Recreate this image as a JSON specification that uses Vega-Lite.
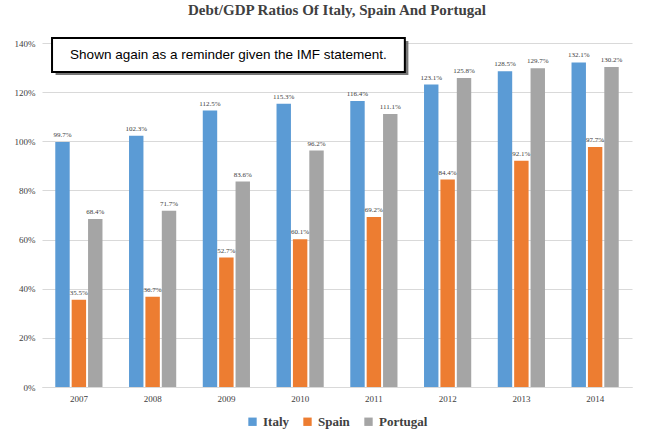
{
  "$schema": "https://vega.github.io/schema/vega-lite/v6.json",
  "width": 590,
  "height": 344,
  "autosize": {"type": "none"},
  "padding": {"left": 42, "top": 43, "right": 30, "bottom": 56},
  "background": "white",
  "title": {
    "text": "Debt/GDP Ratios Of  Italy, Spain And Portugal",
    "font": "Liberation Serif",
    "fontSize": 15,
    "fontWeight": "bold",
    "color": "#404040",
    "anchor": "middle",
    "offset": 19
  },
  "datasets": {
    "ratios": [
      {"year": "2007", "country": "Italy", "ratio": 99.7},
      {"year": "2007", "country": "Spain", "ratio": 35.5},
      {"year": "2007", "country": "Portugal", "ratio": 68.4},
      {"year": "2008", "country": "Italy", "ratio": 102.3},
      {"year": "2008", "country": "Spain", "ratio": 36.7},
      {"year": "2008", "country": "Portugal", "ratio": 71.7},
      {"year": "2009", "country": "Italy", "ratio": 112.5},
      {"year": "2009", "country": "Spain", "ratio": 52.7},
      {"year": "2009", "country": "Portugal", "ratio": 83.6},
      {"year": "2010", "country": "Italy", "ratio": 115.3},
      {"year": "2010", "country": "Spain", "ratio": 60.1},
      {"year": "2010", "country": "Portugal", "ratio": 96.2},
      {"year": "2011", "country": "Italy", "ratio": 116.4},
      {"year": "2011", "country": "Spain", "ratio": 69.2},
      {"year": "2011", "country": "Portugal", "ratio": 111.1},
      {"year": "2012", "country": "Italy", "ratio": 123.1},
      {"year": "2012", "country": "Spain", "ratio": 84.4},
      {"year": "2012", "country": "Portugal", "ratio": 125.8},
      {"year": "2013", "country": "Italy", "ratio": 128.5},
      {"year": "2013", "country": "Spain", "ratio": 92.1},
      {"year": "2013", "country": "Portugal", "ratio": 129.7},
      {"year": "2014", "country": "Italy", "ratio": 132.1},
      {"year": "2014", "country": "Spain", "ratio": 97.7},
      {"year": "2014", "country": "Portugal", "ratio": 130.2}
    ],
    "note": [
      {"text": "Shown again as a reminder given the IMF statement.", "x0": 0.017, "x1": 0.615, "y0": 128.2, "y1": 142.0, "xs0": 0.023, "xs1": 0.621, "ys0": 127.0, "ys1": 140.8, "xm": 0.316, "ym": 135.1}
    ]
  },
  "layer": [
    {
      "data": {"name": "ratios"},
      "layer": [
        {
          "mark": {"type": "bar"},
          "encoding": {
            "x": {
              "field": "year", "type": "nominal",
              "scale": {"paddingInner": 0.36, "paddingOuter": 0.18},
              "axis": {"title": null, "labelAngle": 0, "ticks": false, "labelFont": "Liberation Serif", "labelFontSize": 9, "labelColor": "#404040", "domainColor": "#D9D9D9", "labelPadding": 7}
            },
            "xOffset": {"field": "country", "type": "nominal", "sort": ["Italy", "Spain", "Portugal"], "scale": {"paddingInner": 0.12}},
            "y": {
              "field": "ratio", "type": "quantitative",
              "scale": {"domain": [0, 140], "nice": false},
              "axis": {"title": null, "values": [0, 20, 40, 60, 80, 100, 120, 140], "labelExpr": "datum.value + '%'", "domain": false, "ticks": false, "gridColor": "#D9D9D9", "labelFont": "Liberation Serif", "labelFontSize": 9, "labelColor": "#404040", "labelPadding": 7}
            },
            "color": {
              "field": "country", "type": "nominal",
              "sort": ["Italy", "Spain", "Portugal"],
              "scale": {"domain": ["Italy", "Spain", "Portugal"], "range": ["#5B9BD5", "#ED7D31", "#A5A5A5"]},
              "legend": {"title": null, "orient": "bottom", "direction": "horizontal", "symbolType": "square", "symbolSize": 70, "labelFont": "Liberation Serif", "labelFontSize": 13, "labelFontWeight": "bold", "labelColor": "#404040", "offset": 12, "columnPadding": 12}
            }
          }
        },
        {
          "mark": {"type": "text", "dy": -7, "font": "Liberation Serif", "fontSize": 7, "fill": "#404040", "text": {"expr": "format(datum.ratio, '.1f') + '%'"}},
          "encoding": {
            "x": {"field": "year", "type": "nominal"},
            "xOffset": {"field": "country", "type": "nominal", "sort": ["Italy", "Spain", "Portugal"]},
            "y": {"field": "ratio", "type": "quantitative"},
            "detail": {"field": "country"}
          }
        }
      ]
    },
    {
      "data": {"name": "note"},
      "layer": [
        {
          "mark": {"type": "rect", "color": "#555555", "opacity": 0.8},
          "encoding": {
            "x": {"field": "xs0", "type": "quantitative", "scale": {"domain": [0, 1]}, "axis": null},
            "x2": {"field": "xs1"},
            "y": {"field": "ys0", "type": "quantitative"},
            "y2": {"field": "ys1"}
          }
        },
        {
          "mark": {"type": "rect", "fill": "white", "stroke": "black", "strokeWidth": 2},
          "encoding": {
            "x": {"field": "x0", "type": "quantitative", "scale": {"domain": [0, 1]}, "axis": null},
            "x2": {"field": "x1"},
            "y": {"field": "y0", "type": "quantitative"},
            "y2": {"field": "y1"}
          }
        },
        {
          "mark": {"type": "text", "font": "Liberation Sans", "fontSize": 13.5, "color": "black", "align": "center", "baseline": "middle"},
          "encoding": {
            "x": {"field": "xm", "type": "quantitative", "scale": {"domain": [0, 1]}, "axis": null},
            "y": {"field": "ym", "type": "quantitative"},
            "text": {"field": "text"}
          }
        }
      ]
    }
  ],
  "resolve": {"scale": {"x": "independent"}},
  "config": {
    "view": {"stroke": null},
    "legend": {"layout": {"bottom": {"anchor": "middle"}}}
  }
}
